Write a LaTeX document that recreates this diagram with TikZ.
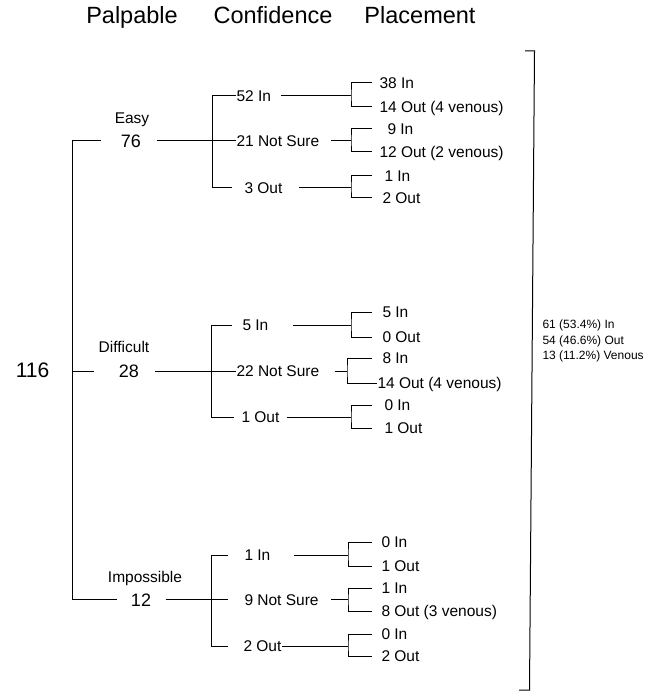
\documentclass[tikz,border=0pt]{standalone}
\usepackage{fontspec}
\setmainfont{Liberation Sans}
\begin{document}
\begin{tikzpicture}[x=1pt,y=-1pt,line width=1pt,
  lbl/.style={inner sep=0pt,text height=11pt,text depth=0pt,font=\fontsize{15.5}{18}\selectfont},
  lblw/.style={lbl,anchor=west},
  hdr/.style={font=\fontsize{23.5}{28}\selectfont,anchor=base,inner sep=0pt},
  num/.style={font=\fontsize{18}{20}\selectfont,inner sep=0pt,text height=13pt,text depth=0pt},
  rootnum/.style={font=\fontsize{21}{24}\selectfont,inner sep=0pt,text height=15pt,text depth=0pt},
  summ/.style={font=\fontsize{12}{15.5}\selectfont,align=left,anchor=west,inner sep=0pt}]
\useasboundingbox (0,0) rectangle (654,692);

% headers
\node[hdr] (hPal) at (132,24) {Palpable};
\node[hdr] (hCon) at (273,24) {Confidence};
\node[hdr] (hPla) at (420,24) {Placement};

% root
\node[rootnum] (root) at (32.5,370) {116};

% palpable level
\node[lbl] (easy) at (132,118) {Easy};
\node[num] (e76) at (131,141) {76};
\node[lbl] (diff) at (124,347) {Difficult};
\node[num] (d28) at (129,371) {28};
\node[lbl] (imp) at (145,577) {Impossible};
\node[num] (i12) at (141,599.5) {12};

\coordinate (tx) at (72,0);
\draw ([xshift=-19pt]e76.west) -| (tx |- i12.west) -- ([xshift=-13pt]i12.west);
\draw (tx |- d28.west) -- ([xshift=-24pt]d28.west);

% confidence level
\coordinate (cvA) at (212,0);
\coordinate (cvB) at (211,0);
\coordinate (armE) at (372,0);
\coordinate (bxA) at (351,0);
\coordinate (bxB) at (347,0);
\coordinate (bxC) at (348,0);

% ---- Easy
\node[lblw] (c52) at (236,96) {52 In};
\node[lblw] (c21) at (236,141) {21 Not Sure};
\node[lblw] (c3) at (244,188) {3 Out};
\draw ([xshift=15pt]e76.east) -- (c21.west);
\draw (c52.west) -| (cvA |- c3.west) -- ([xshift=-12pt]c3.west);
\draw ([xshift=10pt]c52.east) -- (bxA |- c52.west);
\draw ([xshift=11pt]c21.east) -- (bxA |- c21.west);
\draw ([xshift=16pt]c3.east) -- (bxA |- c3.west);

\node[lblw] (p38) at (379,83) {38 In};
\node[lblw] (p14) at (379,107) {14 Out (4 venous)};
\node[lblw] (p9) at (387,129) {9 In};
\node[lblw] (p12) at (379,152) {12 Out (2 venous)};
\node[lblw] (p1) at (384,176) {1 In};
\node[lblw] (p2) at (382,198) {2 Out};
\draw (armE |- p38.west) -| (bxA |- c52.west) |- (armE |- p14.west);
\draw (armE |- p9.west) -| (bxA |- c21.west) |- (armE |- p12.west);
\draw (armE |- p1.west) -| (bxA |- c3.west) |- (armE |- p2.west);

% ---- Difficult
\node[lblw] (c5) at (242,325) {5 In};
\node[lblw] (c22) at (236,371) {22 Not Sure};
\node[lblw] (c1b) at (241,417) {1 Out};
\draw ([xshift=15pt]d28.east) -- (c22.west);
\draw ([xshift=-10pt]c5.west) -| (cvB |- c1b.west) -- ([xshift=-7pt]c1b.west);
\draw ([xshift=24pt]c5.east) -- (bxA |- c5.west);
\draw ([xshift=15pt]c22.east) -- (bxB |- c22.west);
\draw ([xshift=7pt]c1b.east) -- (bxA |- c1b.west);

\node[lblw] (q5) at (382,312) {5 In};
\node[lblw] (q0) at (382,337) {0 Out};
\node[lblw] (q8) at (382,358) {8 In};
\node[lblw] (q14) at (377,383) {14 Out (4 venous)};
\node[lblw] (q0i) at (384,405) {0 In};
\node[lblw] (q1) at (384,428) {1 Out};
\draw (armE |- q5.west) -| (bxA |- c5.west) |- (armE |- q0.west);
\draw (armE |- q8.west) -| (bxB |- c22.west) |- (q14.west);
\draw (armE |- q0i.west) -| (bxA |- c1b.west) |- (armE |- q1.west);

% ---- Impossible
\node[lblw] (c1c) at (244,555) {1 In};
\node[lblw] (c9) at (244,599.5) {9 Not Sure};
\node[lblw] (c2c) at (243,646) {2 Out};
\draw ([xshift=14pt]i12.east) -- ([xshift=-16pt]c9.west);
\draw ([xshift=-16pt]c1c.west) -| (cvB |- c2c.west) -- ([xshift=-15pt]c2c.west);
\draw ([xshift=23pt]c1c.east) -- (bxC |- c1c.west);
\draw ([xshift=12pt]c9.east) -- (bxC |- c9.west);
\draw (c2c.east) -- (bxC |- c2c.west);

\node[lblw] (r0a) at (381,542) {0 In};
\node[lblw] (r1a) at (381,566) {1 Out};
\node[lblw] (r1b) at (381,588) {1 In};
\node[lblw] (r8) at (381,611) {8 Out (3 venous)};
\node[lblw] (r0b) at (381,634) {0 In};
\node[lblw] (r2) at (381,656) {2 Out};
\draw (armE |- r0a.west) -| (bxC |- c1c.west) |- (armE |- r1a.west);
\draw (armE |- r1b.west) -| (bxC |- c9.west) |- (armE |- r8.west);
\draw (armE |- r0b.west) -| (bxC |- c2c.west) |- (armE |- r2.west);

% right bracket and summary
\coordinate (rb1) at (525,51);
\coordinate (rb2) at (534.5,51);
\coordinate (rb3) at (529.5,690);
\coordinate (rb4) at (519,690);
\draw (rb1) -- (rb2) -- (rb3) -- (rb4);
\node[summ] (sum) at (542,341) {61 (53.4\%) In\\54 (46.6\%) Out\\13 (11.2\%) Venous};
\end{tikzpicture}
\end{document}
